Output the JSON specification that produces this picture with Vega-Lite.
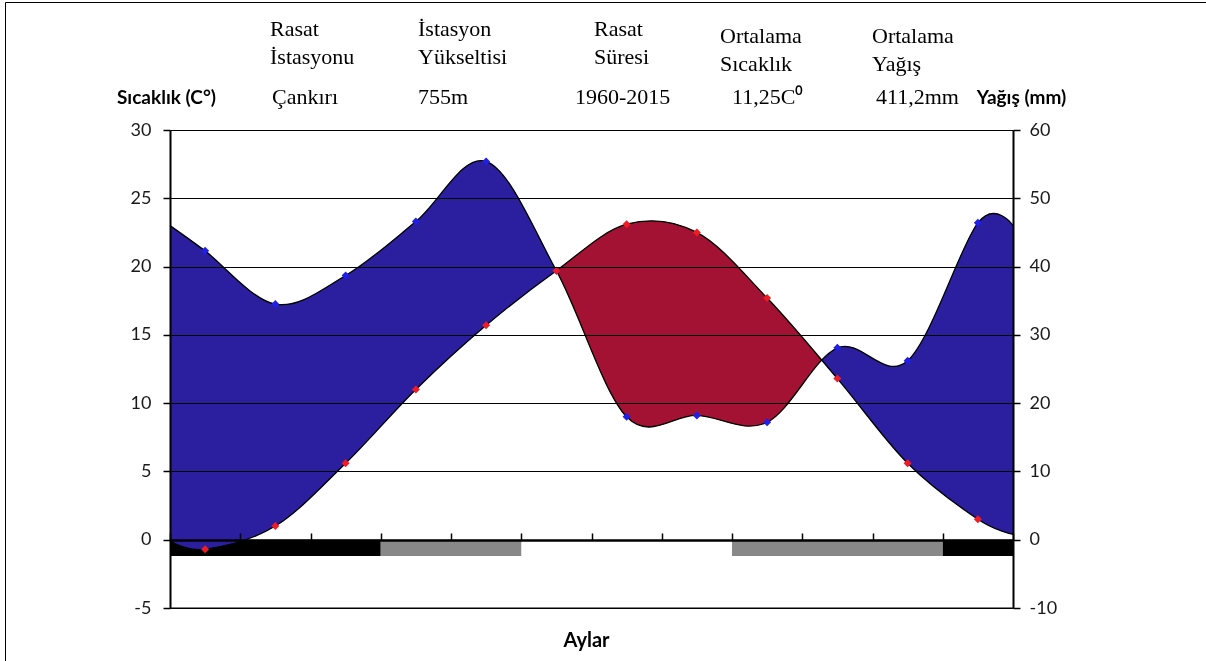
{
  "$schema": "https://vega.github.io/schema/vega-lite/v6.json",
  "width": 1201,
  "height": 659,
  "autosize": "none",
  "padding": {"left": 5, "top": 2, "right": 0, "bottom": 0},
  "background": "white",
  "config": {"view": {"stroke": "#000000", "strokeWidth": 1}},
  "datasets": {
    "clim": [
      {"m": 0.5, "temp": -0.1, "precip": 46.0},
      {"m": 1, "temp": -0.7, "precip": 42.3},
      {"m": 2, "temp": 1.0, "precip": 34.5},
      {"m": 3, "temp": 5.6, "precip": 38.7},
      {"m": 4, "temp": 11.0, "precip": 46.6},
      {"m": 5, "temp": 15.7, "precip": 55.4},
      {"m": 6, "temp": 19.7, "precip": 39.4},
      {"m": 7, "temp": 23.1, "precip": 18.0},
      {"m": 8, "temp": 22.5, "precip": 18.2},
      {"m": 9, "temp": 17.7, "precip": 17.2},
      {"m": 10, "temp": 11.8, "precip": 28.1},
      {"m": 11, "temp": 5.6, "precip": 26.2},
      {"m": 12, "temp": 1.5, "precip": 46.4},
      {"m": 12.5, "temp": 0.4, "precip": 46.0}
    ],
    "bars": [
      {"start": 0.5, "end": 3.5, "kind": "black"},
      {"start": 3.5, "end": 5.5, "kind": "gray"},
      {"start": 8.5, "end": 11.5, "kind": "gray"},
      {"start": 11.5, "end": 12.5, "kind": "black"}
    ],
    "header": [
      {"col": 1, "line": 1, "text": "Rasat"},
      {"col": 1, "line": 2, "text": "İstasyonu"},
      {"col": 1, "line": 3, "text": "Çankırı"},
      {"col": 2, "line": 1, "text": "İstasyon"},
      {"col": 2, "line": 2, "text": "Yükseltisi"},
      {"col": 2, "line": 3, "text": "755m"},
      {"col": 3, "line": 1, "text": "Rasat"},
      {"col": 3, "line": 2, "text": "Süresi"},
      {"col": 3, "line": 3, "text": "1960-2015"},
      {"col": 4, "line": 1, "text": "Ortalama"},
      {"col": 4, "line": 2, "text": "Sıcaklık"},
      {"col": 4, "line": 3, "text": "11,25C⁰"},
      {"col": 5, "line": 1, "text": "Ortalama"},
      {"col": 5, "line": 2, "text": "Yağış"},
      {"col": 5, "line": 3, "text": "411,2mm"}
    ]
  },
  "resolve": {
    "scale": {"x": "independent", "y": "independent"},
    "axis": {"x": "independent", "y": "independent"}
  },
  "layer": [
    {
      "data": {"name": "clim"},
      "mark": {"type": "area", "interpolate": "cardinal", "fill": "#ffffff", "blend": "difference"},
      "encoding": {
        "x": {"field": "m", "type": "quantitative", "scale": {"domain": [0.5, 12.5], "range": [165, 1008], "nice": false, "zero": false}, "axis": null},
        "y": {"field": "precip", "type": "quantitative", "scale": {"domain": [-10, 60], "range": [606, 128], "nice": false, "zero": false}, "axis": null},
        "y2": {"datum": 60}
      }
    },
    {
      "data": {"name": "clim"},
      "mark": {"type": "area", "interpolate": "cardinal", "fill": "#ffffff", "blend": "difference"},
      "encoding": {
        "x": {"field": "m", "type": "quantitative", "scale": {"domain": [0.5, 12.5], "range": [165, 1008], "nice": false, "zero": false}, "axis": null},
        "y": {"field": "temp", "type": "quantitative", "scale": {"domain": [-5, 30], "range": [606, 128], "nice": false, "zero": false}, "axis": null},
        "y2": {"datum": 30}
      }
    },
    {
      "data": {"name": "clim"},
      "mark": {"type": "area", "interpolate": "cardinal", "fill": "#2B1FA0", "blend": "lighten"},
      "encoding": {
        "x": {"field": "m", "type": "quantitative", "scale": {"domain": [0.5, 12.5], "range": [165, 1008], "nice": false, "zero": false}, "axis": null},
        "y": {"field": "temp", "type": "quantitative", "scale": {"domain": [-5, 30], "range": [606, 128], "nice": false, "zero": false}, "axis": null},
        "y2": {"datum": 30}
      }
    },
    {
      "data": {"name": "clim"},
      "mark": {"type": "area", "interpolate": "cardinal", "fill": "#A31232", "blend": "lighten"},
      "encoding": {
        "x": {"field": "m", "type": "quantitative", "scale": {"domain": [0.5, 12.5], "range": [165, 1008], "nice": false, "zero": false}, "axis": null},
        "y": {"field": "temp", "type": "quantitative", "scale": {"domain": [-5, 30], "range": [606, 128], "nice": false, "zero": false}, "axis": null},
        "y2": {"datum": -4.9}
      }
    },
    {
      "data": {"name": "bars"},
      "mark": {"type": "rect"},
      "encoding": {
        "x": {"field": "start", "type": "quantitative", "scale": {"domain": [0.5, 12.5], "range": [165, 1008], "nice": false, "zero": false}, "axis": null},
        "x2": {"field": "end"},
        "y": {"datum": 0, "type": "quantitative", "scale": {"domain": [-5, 30], "range": [606, 128], "nice": false, "zero": false}, "axis": null},
        "y2": {"datum": -1.2},
        "color": {"field": "kind", "type": "nominal", "scale": {"domain": ["black", "gray"], "range": ["#000000", "#888888"]}, "legend": null}
      }
    },
    {
      "data": {"name": "clim"},
      "mark": {"type": "area", "interpolate": "cardinal", "fill": "#2B1FA0", "blend": "lighten"},
      "encoding": {
        "x": {"field": "m", "type": "quantitative", "scale": {"domain": [0.5, 12.5], "range": [165, 1008], "nice": false, "zero": false}, "axis": null},
        "y": {"field": "temp", "type": "quantitative", "scale": {"domain": [-5, 30], "range": [606, 128], "nice": false, "zero": false}, "axis": null},
        "y2": {"datum": 30}
      }
    },
    {
      "data": {"name": "clim"},
      "mark": {"type": "line", "interpolate": "cardinal", "color": "#000000", "strokeWidth": 1.3},
      "encoding": {
        "x": {"field": "m", "type": "quantitative", "scale": {"domain": [0.5, 12.5], "range": [165, 1008], "nice": false, "zero": false}, "axis": null},
        "y": {"field": "precip", "type": "quantitative", "scale": {"domain": [-10, 60], "range": [606, 128], "nice": false, "zero": false},
          "axis": {"orient": "right", "offset": -193, "values": [-10, 0, 10, 20, 30, 40, 50, 60], "grid": false, "zindex": 1,
            "domainColor": "#000000", "domainWidth": 2, "tickColor": "#000000", "tickWidth": 1.5, "tickSize": 7,
            "labelFont": "Lato", "labelFontSize": 18, "labelColor": "#1a1a1a", "labelPadding": 9, "labelExpr": "toString(datum.value)",
            "title": "Yağış (mm)", "titleAngle": 0, "titleX": 8, "titleY": 95, "titleAlign": "center", "titleBaseline": "middle",
            "titleFont": "Lato", "titleFontSize": 19, "titleFontWeight": "bold", "titleColor": "#000000"}}
      }
    },
    {
      "data": {"name": "clim"},
      "mark": {"type": "line", "interpolate": "cardinal", "color": "#000000", "strokeWidth": 1.3},
      "encoding": {
        "x": {"field": "m", "type": "quantitative", "scale": {"domain": [0.5, 12.5], "range": [165, 1008], "nice": false, "zero": false},
          "axis": {"orient": "bottom", "offset": -121, "values": [0.5, 1.5, 2.5, 3.5, 4.5, 5.5, 6.5, 7.5, 8.5, 9.5, 10.5, 11.5, 12.5],
            "labels": false, "grid": false, "zindex": 1, "domainColor": "#000000", "domainWidth": 2.5,
            "tickColor": "#000000", "tickWidth": 1.5, "tickSize": -7,
            "title": "Aylar", "titleX": 581, "titleY": 100, "titleAlign": "center", "titleBaseline": "middle",
            "titleFont": "Lato", "titleFontSize": 20, "titleFontWeight": "bold", "titleColor": "#000000"}},
        "y": {"field": "temp", "type": "quantitative", "scale": {"domain": [-5, 30], "range": [606, 128], "nice": false, "zero": false},
          "axis": {"orient": "left", "offset": -165, "values": [-5, 0, 5, 10, 15, 20, 25, 30], "grid": true, "gridColor": "#000000", "gridWidth": 1, "gridOpacity": 1, "zindex": 1,
            "domainColor": "#000000", "domainWidth": 2, "tickColor": "#000000", "tickWidth": 1.5, "tickSize": 7,
            "labelFont": "Lato", "labelFontSize": 18, "labelColor": "#1a1a1a", "labelPadding": 12, "labelExpr": "toString(datum.value)",
            "title": "Sıcaklık (C°)", "titleAngle": 0, "titleX": -4, "titleY": 95, "titleAlign": "center", "titleBaseline": "middle",
            "titleFont": "Lato", "titleFontSize": 19, "titleFontWeight": "bold", "titleColor": "#000000"}}
      }
    },
    {
      "data": {"name": "clim"},
      "transform": [{"filter": "datum.m >= 1 && datum.m <= 12"}],
      "mark": {"type": "point", "shape": "diamond", "filled": true, "size": 65, "color": "#1f1fe8", "opacity": 1},
      "encoding": {
        "x": {"field": "m", "type": "quantitative", "scale": {"domain": [0.5, 12.5], "range": [165, 1008], "nice": false, "zero": false}, "axis": null},
        "y": {"field": "precip", "type": "quantitative", "scale": {"domain": [-10, 60], "range": [606, 128], "nice": false, "zero": false}, "axis": null}
      }
    },
    {
      "data": {"name": "clim"},
      "transform": [{"filter": "datum.m >= 1 && datum.m <= 12"}],
      "mark": {"type": "point", "shape": "diamond", "filled": true, "size": 65, "color": "#ee1c24", "opacity": 1},
      "encoding": {
        "x": {"field": "m", "type": "quantitative", "scale": {"domain": [0.5, 12.5], "range": [165, 1008], "nice": false, "zero": false}, "axis": null},
        "y": {"field": "temp", "type": "quantitative", "scale": {"domain": [-5, 30], "range": [606, 128], "nice": false, "zero": false}, "axis": null}
      }
    },
    {
      "data": {"name": "bars"},
      "transform": [{"filter": "datum.start == 0.5"}],
      "mark": {"type": "rule", "color": "#000000", "strokeWidth": 1.2},
      "encoding": {
        "x": {"datum": 0.5, "type": "quantitative", "scale": {"domain": [0.5, 12.5], "range": [165, 1008], "nice": false, "zero": false}, "axis": null},
        "x2": {"datum": 12.5},
        "y": {"datum": -5, "type": "quantitative", "scale": {"domain": [-5, 30], "range": [606, 128], "nice": false, "zero": false}, "axis": null}
      }
    },
    {
      "data": {"name": "header"},
      "transform": [{"filter": "datum.line < 3 && datum.col <= 3"}],
      "mark": {"type": "text", "align": "left", "baseline": "middle", "font": "Liberation Serif", "fontSize": 22, "color": "#000000"},
      "encoding": {
        "x": {"field": "col", "type": "quantitative", "scale": {"domain": [1, 2, 3], "range": [265, 413, 589], "nice": false, "zero": false}, "axis": null},
        "y": {"field": "line", "type": "quantitative", "scale": {"domain": [1, 2], "range": [27, 55], "nice": false, "zero": false}, "axis": null},
        "text": {"field": "text"}
      }
    },
    {
      "data": {"name": "header"},
      "transform": [{"filter": "datum.line < 3 && datum.col >= 4"}],
      "mark": {"type": "text", "align": "left", "baseline": "middle", "font": "Liberation Serif", "fontSize": 22, "color": "#000000"},
      "encoding": {
        "x": {"field": "col", "type": "quantitative", "scale": {"domain": [4, 5], "range": [715, 867], "nice": false, "zero": false}, "axis": null},
        "y": {"field": "line", "type": "quantitative", "scale": {"domain": [1, 2], "range": [34, 62], "nice": false, "zero": false}, "axis": null},
        "text": {"field": "text"}
      }
    },
    {
      "data": {"name": "header"},
      "transform": [{"filter": "datum.line == 3"}],
      "mark": {"type": "text", "align": "left", "baseline": "middle", "font": "Liberation Serif", "fontSize": 22, "color": "#000000"},
      "encoding": {
        "x": {"field": "col", "type": "quantitative", "scale": {"domain": [1, 2, 3, 4, 5], "range": [267, 413, 570, 727, 871], "nice": false, "zero": false}, "axis": null},
        "y": {"field": "line", "type": "quantitative", "scale": {"domain": [3, 4], "range": [95, 120], "nice": false, "zero": false}, "axis": null},
        "text": {"field": "text"}
      }
    }
  ]
}
